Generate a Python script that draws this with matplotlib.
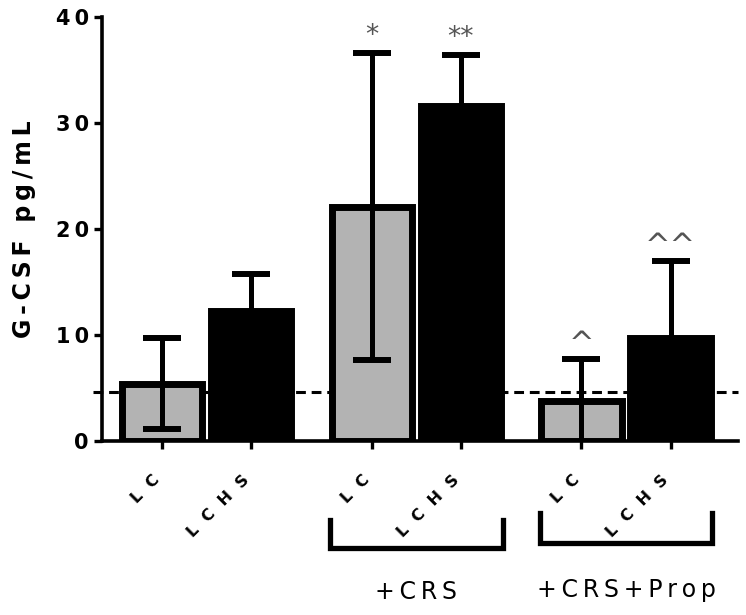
import numpy as np
import matplotlib
matplotlib.use("Agg")
from matplotlib import pyplot as plt
import matplotlib.transforms as mtransforms

# data
groups = ["LC", "LCHS", "LC", "LCHS", "LC", "LCHS"]
means = [5.4, 12.25, 22.1, 31.6, 3.75, 9.7]
sds = [4.3, 3.55, 14.5, 4.8, 4.0, 7.3]
marks = ["", "", "*", "**", "^", "^^"]
fills = ["#b3b3b3", "black", "#b3b3b3", "black", "#b3b3b3", "black"]
brackets = ["+CRS", "+CRS+Prop"]
baseline = 4.6
yticks = [0, 10, 20, 30, 40]


def spaced(s, sep="\u2009"):
    return sep.join(list(s))


# bar positions: pairs, with a wider step between treatment groups
step = 2.356
xpos = np.array([(i // 2) * step + (i % 2) for i in range(len(groups))])

fig = plt.figure(figsize=(7.46, 6.15), dpi=100)
ax = fig.add_axes([102 / 746, 1 - 441 / 615, 636 / 746, 424 / 615])

ax.bar(xpos, means, width=0.9, color=fills, edgecolor="black", linewidth=5, zorder=2)
ax.errorbar(xpos, means, yerr=sds, fmt="none", ecolor="black", elinewidth=3.6,
            capsize=13.5, capthick=4.3, zorder=3)

ax.plot([-0.78, 6.47], [baseline, baseline], color="black", linestyle=(0, (3.2, 1.9)),
        linewidth=2.2, clip_on=False, zorder=1)

for x, m, s, t in zip(xpos, means, sds, marks):
    if t:
        big = 22 if t.startswith("^") else 19
        dy = 0.0 if t.startswith("^") else 0.4
        ax.text(x, m + s + dy, t, ha="center", va="bottom", fontsize=big,
                color="#555555", zorder=4)

ax.set_xlim(-0.674, 6.47)
ax.set_ylim(0, 40)
ax.set_yticks(yticks)
ax.set_yticklabels([spaced(str(v)) for v in yticks], fontsize=15, fontweight="bold")
ax.set_xticks(xpos)
ax.set_xticklabels([])
ax.tick_params(axis="both", width=2.4, length=5.5, direction="out")
ax.tick_params(axis="y", pad=4)
for side in ["top", "right"]:
    ax.spines[side].set_visible(False)
for side in ["left", "bottom"]:
    ax.spines[side].set_linewidth(2.6)

# rotated category labels, drawn by hand so they can sit a little left of the ticks
lab_trans = ax.get_xaxis_transform() + mtransforms.ScaledTranslation(-0.095, -0.31, fig.dpi_scale_trans)
for x, g in zip(xpos, groups):
    ax.text(x, 0, spaced(g, "  "), transform=lab_trans, rotation=45, ha="right", va="top",
            rotation_mode="anchor", fontsize=11.5, fontweight="heavy", clip_on=False)

ax.set_ylabel(spaced("G-CSF pg/mL"), fontsize=17, fontweight="bold", labelpad=14)

# group brackets below the axis
trans = mtransforms.blended_transform_factory(ax.transData, ax.transAxes)
for i, (lab, ytop, ybot, ylab) in enumerate(zip(brackets, [-0.186, -0.17], [-0.252, -0.24], [-0.356, -0.351])):
    x0 = xpos[2 + 2 * i] - 0.47
    x1 = xpos[3 + 2 * i] + 0.47
    ax.plot([x0, x0, x1, x1], [ytop, ybot, ybot, ytop], color="black", linewidth=3.8,
            transform=trans, clip_on=False, solid_joinstyle="miter")
    ax.text((x0 + x1) / 2, ylab, spaced(lab), transform=trans,
            ha="center", va="center", fontsize=17)

plt.savefig("out.png", dpi=100)
